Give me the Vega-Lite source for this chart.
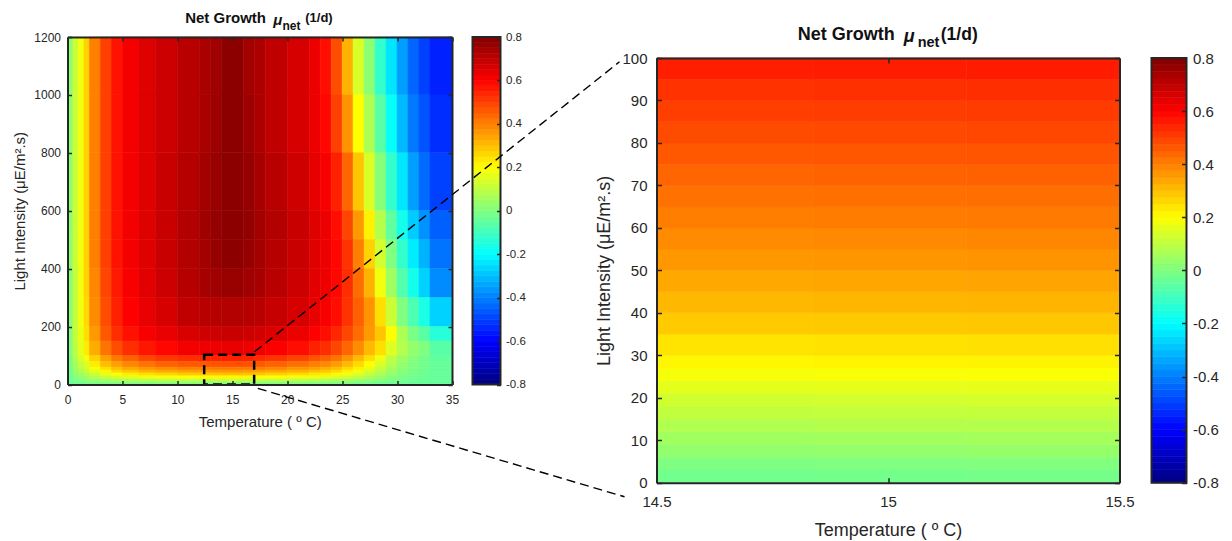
{"$schema":"https://vega.github.io/schema/vega-lite/v6.json","padding":{"left":12.5,"top":11,"right":0,"bottom":0},"autosize":{"type":"pad"},"background":"white","config":{"view":{"stroke":null},"font":"Liberation Sans","axis":{"grid":false,"domainColor":"#262626","tickColor":"#262626","labelColor":"#262626","titleColor":"#262626","titleFontWeight":"normal","labelFlush":false,"domainWidth":2,"tickWidth":1.5}},"datasets":{"jet":[{"v0":-0.8,"v1":-0.775,"v":-0.7875},{"v0":-0.775,"v1":-0.75,"v":-0.7625},{"v0":-0.75,"v1":-0.725,"v":-0.7375},{"v0":-0.725,"v1":-0.7,"v":-0.7125},{"v0":-0.7,"v1":-0.675,"v":-0.6875},{"v0":-0.675,"v1":-0.65,"v":-0.6625},{"v0":-0.65,"v1":-0.625,"v":-0.6375},{"v0":-0.625,"v1":-0.6,"v":-0.6125},{"v0":-0.6,"v1":-0.575,"v":-0.5875},{"v0":-0.575,"v1":-0.55,"v":-0.5625},{"v0":-0.55,"v1":-0.525,"v":-0.5375},{"v0":-0.525,"v1":-0.5,"v":-0.5125},{"v0":-0.5,"v1":-0.475,"v":-0.4875},{"v0":-0.475,"v1":-0.45,"v":-0.4625},{"v0":-0.45,"v1":-0.425,"v":-0.4375},{"v0":-0.425,"v1":-0.4,"v":-0.4125},{"v0":-0.4,"v1":-0.375,"v":-0.3875},{"v0":-0.375,"v1":-0.35,"v":-0.3625},{"v0":-0.35,"v1":-0.325,"v":-0.3375},{"v0":-0.325,"v1":-0.3,"v":-0.3125},{"v0":-0.3,"v1":-0.275,"v":-0.2875},{"v0":-0.275,"v1":-0.25,"v":-0.2625},{"v0":-0.25,"v1":-0.225,"v":-0.2375},{"v0":-0.225,"v1":-0.2,"v":-0.2125},{"v0":-0.2,"v1":-0.175,"v":-0.1875},{"v0":-0.175,"v1":-0.15,"v":-0.1625},{"v0":-0.15,"v1":-0.125,"v":-0.1375},{"v0":-0.125,"v1":-0.1,"v":-0.1125},{"v0":-0.1,"v1":-0.075,"v":-0.0875},{"v0":-0.075,"v1":-0.05,"v":-0.0625},{"v0":-0.05,"v1":-0.025,"v":-0.0375},{"v0":-0.025,"v1":0,"v":-0.0125},{"v0":0,"v1":0.025,"v":0.0125},{"v0":0.025,"v1":0.05,"v":0.0375},{"v0":0.05,"v1":0.075,"v":0.0625},{"v0":0.075,"v1":0.1,"v":0.0875},{"v0":0.1,"v1":0.125,"v":0.1125},{"v0":0.125,"v1":0.15,"v":0.1375},{"v0":0.15,"v1":0.175,"v":0.1625},{"v0":0.175,"v1":0.2,"v":0.1875},{"v0":0.2,"v1":0.225,"v":0.2125},{"v0":0.225,"v1":0.25,"v":0.2375},{"v0":0.25,"v1":0.275,"v":0.2625},{"v0":0.275,"v1":0.3,"v":0.2875},{"v0":0.3,"v1":0.325,"v":0.3125},{"v0":0.325,"v1":0.35,"v":0.3375},{"v0":0.35,"v1":0.375,"v":0.3625},{"v0":0.375,"v1":0.4,"v":0.3875},{"v0":0.4,"v1":0.425,"v":0.4125},{"v0":0.425,"v1":0.45,"v":0.4375},{"v0":0.45,"v1":0.475,"v":0.4625},{"v0":0.475,"v1":0.5,"v":0.4875},{"v0":0.5,"v1":0.525,"v":0.5125},{"v0":0.525,"v1":0.55,"v":0.5375},{"v0":0.55,"v1":0.575,"v":0.5625},{"v0":0.575,"v1":0.6,"v":0.5875},{"v0":0.6,"v1":0.625,"v":0.6125},{"v0":0.625,"v1":0.65,"v":0.6375},{"v0":0.65,"v1":0.675,"v":0.6625},{"v0":0.675,"v1":0.7,"v":0.6875},{"v0":0.7,"v1":0.725,"v":0.7125},{"v0":0.725,"v1":0.75,"v":0.7375},{"v0":0.75,"v1":0.775,"v":0.7625},{"v0":0.775,"v1":0.8,"v":0.7875}],"tcols":[{"t":0,"t1":0.5},{"t":0.5,"t1":1},{"t":1,"t1":1.5},{"t":1.5,"t1":2},{"t":2,"t1":3},{"t":3,"t1":4},{"t":4,"t1":5},{"t":5,"t1":6.5},{"t":6.5,"t1":8},{"t":8,"t1":10},{"t":10,"t1":12},{"t":12,"t1":13},{"t":13,"t1":14},{"t":14,"t1":16},{"t":16,"t1":17},{"t":17,"t1":18},{"t":18,"t1":20},{"t":20,"t1":22},{"t":22,"t1":23},{"t":23,"t1":24},{"t":24,"t1":25},{"t":25,"t1":26},{"t":26,"t1":27},{"t":27,"t1":28},{"t":28,"t1":29},{"t":29,"t1":30},{"t":30,"t1":31},{"t":31,"t1":32},{"t":32,"t1":33},{"t":33,"t1":35},{"t":14.5,"t1":14.84},{"t":14.84,"t1":15.17},{"t":15.17,"t1":15.5}],"lrows":[{"l":0,"l1":5},{"l":5,"l1":10},{"l":10,"l1":15},{"l":15,"l1":20},{"l":20,"l1":30},{"l":30,"l1":40},{"l":40,"l1":50},{"l":50,"l1":60},{"l":60,"l1":80},{"l":80,"l1":100},{"l":100,"l1":150},{"l":150,"l1":200},{"l":200,"l1":300},{"l":300,"l1":400},{"l":400,"l1":500},{"l":500,"l1":600},{"l":600,"l1":800},{"l":800,"l1":1000},{"l":1000,"l1":1200}],"rrows":[{"l":0,"l1":3},{"l":3,"l1":6},{"l":6,"l1":9},{"l":9,"l1":12},{"l":12,"l1":15},{"l":15,"l1":18},{"l":18,"l1":21},{"l":21,"l1":24},{"l":24,"l1":27},{"l":27,"l1":30},{"l":30,"l1":35},{"l":35,"l1":40},{"l":40,"l1":45},{"l":45,"l1":50},{"l":50,"l1":55},{"l":55,"l1":60},{"l":60,"l1":65},{"l":65,"l1":70},{"l":70,"l1":75},{"l":75,"l1":80},{"l":80,"l1":85},{"l":85,"l1":90},{"l":90,"l1":95},{"l":95,"l1":100}],"left":[
{"t":0,"l":1000,"v":0.02},{"t":0.5,"l":1000,"v":0.12},{"t":1,"l":1000,"v":0.18},{"t":1.5,"l":1000,"v":0.27},{"t":2,"l":1000,"v":0.4},{"t":3,"l":1000,"v":0.5},{"t":4,"l":1000,"v":0.57},{"t":5,"l":1000,"v":0.615},{"t":6.5,"l":1000,"v":0.65},{"t":8,"l":1000,"v":0.68},{"t":10,"l":1000,"v":0.71},{"t":12,"l":1000,"v":0.735},{"t":13,"l":1000,"v":0.75},{"t":14,"l":1000,"v":0.78},{"t":16,"l":1000,"v":0.745},{"t":17,"l":1000,"v":0.73},{"t":18,"l":1000,"v":0.7},{"t":20,"l":1000,"v":0.665},{"t":22,"l":1000,"v":0.63},{"t":23,"l":1000,"v":0.58},{"t":24,"l":1000,"v":0.48},{"t":25,"l":1000,"v":0.32},{"t":26,"l":1000,"v":0.14},{"t":27,"l":1000,"v":0.02},{"t":28,"l":1000,"v":-0.12},{"t":29,"l":1000,"v":-0.24},{"t":30,"l":1000,"v":-0.35},{"t":31,"l":1000,"v":-0.44},{"t":32,"l":1000,"v":-0.5},{"t":33,"l":1000,"v":-0.55},
{"t":0,"l":800,"v":0.02},{"t":0.5,"l":800,"v":0.12},{"t":1,"l":800,"v":0.18},{"t":1.5,"l":800,"v":0.27},{"t":2,"l":800,"v":0.4},{"t":3,"l":800,"v":0.5},{"t":4,"l":800,"v":0.57},{"t":5,"l":800,"v":0.615},{"t":6.5,"l":800,"v":0.65},{"t":8,"l":800,"v":0.68},{"t":10,"l":800,"v":0.71},{"t":12,"l":800,"v":0.735},{"t":13,"l":800,"v":0.755},{"t":14,"l":800,"v":0.78},{"t":16,"l":800,"v":0.755},{"t":17,"l":800,"v":0.73},{"t":18,"l":800,"v":0.7},{"t":20,"l":800,"v":0.665},{"t":22,"l":800,"v":0.63},{"t":23,"l":800,"v":0.59},{"t":24,"l":800,"v":0.5},{"t":25,"l":800,"v":0.37},{"t":26,"l":800,"v":0.2},{"t":27,"l":800,"v":0.07},{"t":28,"l":800,"v":-0.06},{"t":29,"l":800,"v":-0.19},{"t":30,"l":800,"v":-0.31},{"t":31,"l":800,"v":-0.41},{"t":32,"l":800,"v":-0.47},{"t":33,"l":800,"v":-0.53},
{"t":0,"l":600,"v":0.02},{"t":0.5,"l":600,"v":0.12},{"t":1,"l":600,"v":0.18},{"t":1.5,"l":600,"v":0.27},{"t":2,"l":600,"v":0.4},{"t":3,"l":600,"v":0.5},{"t":4,"l":600,"v":0.57},{"t":5,"l":600,"v":0.615},{"t":6.5,"l":600,"v":0.65},{"t":8,"l":600,"v":0.685},{"t":10,"l":600,"v":0.715},{"t":12,"l":600,"v":0.745},{"t":13,"l":600,"v":0.76},{"t":14,"l":600,"v":0.78},{"t":16,"l":600,"v":0.765},{"t":17,"l":600,"v":0.74},{"t":18,"l":600,"v":0.71},{"t":20,"l":600,"v":0.675},{"t":22,"l":600,"v":0.64},{"t":23,"l":600,"v":0.61},{"t":24,"l":600,"v":0.55},{"t":25,"l":600,"v":0.44},{"t":26,"l":600,"v":0.29},{"t":27,"l":600,"v":0.14},{"t":28,"l":600,"v":0.01},{"t":29,"l":600,"v":-0.12},{"t":30,"l":600,"v":-0.24},{"t":31,"l":600,"v":-0.35},{"t":32,"l":600,"v":-0.43},{"t":33,"l":600,"v":-0.5},
{"t":0,"l":500,"v":0.02},{"t":0.5,"l":500,"v":0.12},{"t":1,"l":500,"v":0.18},{"t":1.5,"l":500,"v":0.27},{"t":2,"l":500,"v":0.4},{"t":3,"l":500,"v":0.5},{"t":4,"l":500,"v":0.57},{"t":5,"l":500,"v":0.615},{"t":6.5,"l":500,"v":0.65},{"t":8,"l":500,"v":0.685},{"t":10,"l":500,"v":0.72},{"t":12,"l":500,"v":0.75},{"t":13,"l":500,"v":0.765},{"t":14,"l":500,"v":0.78},{"t":16,"l":500,"v":0.77},{"t":17,"l":500,"v":0.745},{"t":18,"l":500,"v":0.72},{"t":20,"l":500,"v":0.685},{"t":22,"l":500,"v":0.65},{"t":23,"l":500,"v":0.625},{"t":24,"l":500,"v":0.58},{"t":25,"l":500,"v":0.49},{"t":26,"l":500,"v":0.36},{"t":27,"l":500,"v":0.22},{"t":28,"l":500,"v":0.08},{"t":29,"l":500,"v":-0.05},{"t":30,"l":500,"v":-0.17},{"t":31,"l":500,"v":-0.28},{"t":32,"l":500,"v":-0.37},{"t":33,"l":500,"v":-0.45},
{"t":0,"l":400,"v":0.02},{"t":0.5,"l":400,"v":0.12},{"t":1,"l":400,"v":0.18},{"t":1.5,"l":400,"v":0.27},{"t":2,"l":400,"v":0.4},{"t":3,"l":400,"v":0.5},{"t":4,"l":400,"v":0.57},{"t":5,"l":400,"v":0.615},{"t":6.5,"l":400,"v":0.65},{"t":8,"l":400,"v":0.685},{"t":10,"l":400,"v":0.72},{"t":12,"l":400,"v":0.745},{"t":13,"l":400,"v":0.765},{"t":14,"l":400,"v":0.78},{"t":16,"l":400,"v":0.765},{"t":17,"l":400,"v":0.745},{"t":18,"l":400,"v":0.715},{"t":20,"l":400,"v":0.685},{"t":22,"l":400,"v":0.65},{"t":23,"l":400,"v":0.63},{"t":24,"l":400,"v":0.59},{"t":25,"l":400,"v":0.52},{"t":26,"l":400,"v":0.4},{"t":27,"l":400,"v":0.27},{"t":28,"l":400,"v":0.13},{"t":29,"l":400,"v":0},{"t":30,"l":400,"v":-0.12},{"t":31,"l":400,"v":-0.23},{"t":32,"l":400,"v":-0.32},{"t":33,"l":400,"v":-0.42},
{"t":0,"l":300,"v":0.01},{"t":0.5,"l":300,"v":0.11},{"t":1,"l":300,"v":0.18},{"t":1.5,"l":300,"v":0.27},{"t":2,"l":300,"v":0.39},{"t":3,"l":300,"v":0.49},{"t":4,"l":300,"v":0.56},{"t":5,"l":300,"v":0.61},{"t":6.5,"l":300,"v":0.645},{"t":8,"l":300,"v":0.68},{"t":10,"l":300,"v":0.715},{"t":12,"l":300,"v":0.74},{"t":13,"l":300,"v":0.75},{"t":14,"l":300,"v":0.76},{"t":16,"l":300,"v":0.75},{"t":17,"l":300,"v":0.74},{"t":18,"l":300,"v":0.71},{"t":20,"l":300,"v":0.68},{"t":22,"l":300,"v":0.645},{"t":23,"l":300,"v":0.625},{"t":24,"l":300,"v":0.59},{"t":25,"l":300,"v":0.53},{"t":26,"l":300,"v":0.43},{"t":27,"l":300,"v":0.32},{"t":28,"l":300,"v":0.18},{"t":29,"l":300,"v":0.05},{"t":30,"l":300,"v":-0.07},{"t":31,"l":300,"v":-0.17},{"t":32,"l":300,"v":-0.27},{"t":33,"l":300,"v":-0.38},
{"t":0,"l":200,"v":0.01},{"t":0.5,"l":200,"v":0.11},{"t":1,"l":200,"v":0.18},{"t":1.5,"l":200,"v":0.26},{"t":2,"l":200,"v":0.38},{"t":3,"l":200,"v":0.48},{"t":4,"l":200,"v":0.55},{"t":5,"l":200,"v":0.6},{"t":6.5,"l":200,"v":0.635},{"t":8,"l":200,"v":0.665},{"t":10,"l":200,"v":0.7},{"t":12,"l":200,"v":0.71},{"t":13,"l":200,"v":0.715},{"t":14,"l":200,"v":0.72},{"t":16,"l":200,"v":0.715},{"t":17,"l":200,"v":0.71},{"t":18,"l":200,"v":0.69},{"t":20,"l":200,"v":0.665},{"t":22,"l":200,"v":0.635},{"t":23,"l":200,"v":0.61},{"t":24,"l":200,"v":0.58},{"t":25,"l":200,"v":0.52},{"t":26,"l":200,"v":0.45},{"t":27,"l":200,"v":0.37},{"t":28,"l":200,"v":0.25},{"t":29,"l":200,"v":0.12},{"t":30,"l":200,"v":0},{"t":31,"l":200,"v":-0.08},{"t":32,"l":200,"v":-0.16},{"t":33,"l":200,"v":-0.27},
{"t":0,"l":150,"v":0},{"t":0.5,"l":150,"v":0.11},{"t":1,"l":150,"v":0.17},{"t":1.5,"l":150,"v":0.25},{"t":2,"l":150,"v":0.36},{"t":3,"l":150,"v":0.46},{"t":4,"l":150,"v":0.53},{"t":5,"l":150,"v":0.575},{"t":6.5,"l":150,"v":0.61},{"t":8,"l":150,"v":0.635},{"t":10,"l":150,"v":0.66},{"t":12,"l":150,"v":0.675},{"t":13,"l":150,"v":0.68},{"t":14,"l":150,"v":0.685},{"t":16,"l":150,"v":0.68},{"t":17,"l":150,"v":0.67},{"t":18,"l":150,"v":0.655},{"t":20,"l":150,"v":0.63},{"t":22,"l":150,"v":0.6},{"t":23,"l":150,"v":0.58},{"t":24,"l":150,"v":0.54},{"t":25,"l":150,"v":0.49},{"t":26,"l":150,"v":0.43},{"t":27,"l":150,"v":0.36},{"t":28,"l":150,"v":0.29},{"t":29,"l":150,"v":0.2},{"t":30,"l":150,"v":0.07},{"t":31,"l":150,"v":-0.01},{"t":32,"l":150,"v":-0.06},{"t":33,"l":150,"v":-0.14},
{"t":0,"l":100,"v":0},{"t":0.5,"l":100,"v":0.1},{"t":1,"l":100,"v":0.16},{"t":1.5,"l":100,"v":0.23},{"t":2,"l":100,"v":0.33},{"t":3,"l":100,"v":0.42},{"t":4,"l":100,"v":0.48},{"t":5,"l":100,"v":0.53},{"t":6.5,"l":100,"v":0.565},{"t":8,"l":100,"v":0.59},{"t":10,"l":100,"v":0.615},{"t":12,"l":100,"v":0.625},{"t":13,"l":100,"v":0.63},{"t":14,"l":100,"v":0.635},{"t":16,"l":100,"v":0.63},{"t":17,"l":100,"v":0.62},{"t":18,"l":100,"v":0.605},{"t":20,"l":100,"v":0.58},{"t":22,"l":100,"v":0.55},{"t":23,"l":100,"v":0.53},{"t":24,"l":100,"v":0.49},{"t":25,"l":100,"v":0.44},{"t":26,"l":100,"v":0.38},{"t":27,"l":100,"v":0.31},{"t":28,"l":100,"v":0.25},{"t":29,"l":100,"v":0.15},{"t":30,"l":100,"v":0.08},{"t":31,"l":100,"v":0.03},{"t":32,"l":100,"v":0},{"t":33,"l":100,"v":-0.06},
{"t":0,"l":80,"v":-0.01},{"t":0.5,"l":80,"v":0.08},{"t":1,"l":80,"v":0.14},{"t":1.5,"l":80,"v":0.19},{"t":2,"l":80,"v":0.27},{"t":3,"l":80,"v":0.35},{"t":4,"l":80,"v":0.41},{"t":5,"l":80,"v":0.45},{"t":6.5,"l":80,"v":0.49},{"t":8,"l":80,"v":0.515},{"t":10,"l":80,"v":0.53},{"t":12,"l":80,"v":0.54},{"t":13,"l":80,"v":0.545},{"t":14,"l":80,"v":0.55},{"t":16,"l":80,"v":0.545},{"t":17,"l":80,"v":0.535},{"t":18,"l":80,"v":0.52},{"t":20,"l":80,"v":0.495},{"t":22,"l":80,"v":0.47},{"t":23,"l":80,"v":0.45},{"t":24,"l":80,"v":0.42},{"t":25,"l":80,"v":0.37},{"t":26,"l":80,"v":0.31},{"t":27,"l":80,"v":0.25},{"t":28,"l":80,"v":0.18},{"t":29,"l":80,"v":0.1},{"t":30,"l":80,"v":0.05},{"t":31,"l":80,"v":0.01},{"t":32,"l":80,"v":-0.02},{"t":33,"l":80,"v":-0.05},
{"t":0,"l":60,"v":-0.01},{"t":0.5,"l":60,"v":0.06},{"t":1,"l":60,"v":0.11},{"t":1.5,"l":60,"v":0.15},{"t":2,"l":60,"v":0.23},{"t":3,"l":60,"v":0.3},{"t":4,"l":60,"v":0.35},{"t":5,"l":60,"v":0.39},{"t":6.5,"l":60,"v":0.42},{"t":8,"l":60,"v":0.445},{"t":10,"l":60,"v":0.46},{"t":12,"l":60,"v":0.465},{"t":13,"l":60,"v":0.47},{"t":14,"l":60,"v":0.475},{"t":16,"l":60,"v":0.47},{"t":17,"l":60,"v":0.46},{"t":18,"l":60,"v":0.445},{"t":20,"l":60,"v":0.425},{"t":22,"l":60,"v":0.4},{"t":23,"l":60,"v":0.385},{"t":24,"l":60,"v":0.355},{"t":25,"l":60,"v":0.31},{"t":26,"l":60,"v":0.26},{"t":27,"l":60,"v":0.2},{"t":28,"l":60,"v":0.14},{"t":29,"l":60,"v":0.08},{"t":30,"l":60,"v":0.03},{"t":31,"l":60,"v":0},{"t":32,"l":60,"v":-0.02},{"t":33,"l":60,"v":-0.04},
{"t":0,"l":50,"v":-0.02},{"t":0.5,"l":50,"v":0.05},{"t":1,"l":50,"v":0.09},{"t":1.5,"l":50,"v":0.13},{"t":2,"l":50,"v":0.19},{"t":3,"l":50,"v":0.25},{"t":4,"l":50,"v":0.3},{"t":5,"l":50,"v":0.34},{"t":6.5,"l":50,"v":0.365},{"t":8,"l":50,"v":0.385},{"t":10,"l":50,"v":0.4},{"t":12,"l":50,"v":0.405},{"t":13,"l":50,"v":0.41},{"t":14,"l":50,"v":0.415},{"t":16,"l":50,"v":0.41},{"t":17,"l":50,"v":0.405},{"t":18,"l":50,"v":0.39},{"t":20,"l":50,"v":0.37},{"t":22,"l":50,"v":0.35},{"t":23,"l":50,"v":0.33},{"t":24,"l":50,"v":0.3},{"t":25,"l":50,"v":0.26},{"t":26,"l":50,"v":0.22},{"t":27,"l":50,"v":0.17},{"t":28,"l":50,"v":0.11},{"t":29,"l":50,"v":0.06},{"t":30,"l":50,"v":0.02},{"t":31,"l":50,"v":0},{"t":32,"l":50,"v":-0.02},{"t":33,"l":50,"v":-0.04},
{"t":0,"l":40,"v":-0.02},{"t":0.5,"l":40,"v":0.04},{"t":1,"l":40,"v":0.07},{"t":1.5,"l":40,"v":0.11},{"t":2,"l":40,"v":0.16},{"t":3,"l":40,"v":0.21},{"t":4,"l":40,"v":0.26},{"t":5,"l":40,"v":0.29},{"t":6.5,"l":40,"v":0.32},{"t":8,"l":40,"v":0.335},{"t":10,"l":40,"v":0.35},{"t":12,"l":40,"v":0.355},{"t":13,"l":40,"v":0.36},{"t":14,"l":40,"v":0.36},{"t":16,"l":40,"v":0.355},{"t":17,"l":40,"v":0.35},{"t":18,"l":40,"v":0.34},{"t":20,"l":40,"v":0.32},{"t":22,"l":40,"v":0.3},{"t":23,"l":40,"v":0.285},{"t":24,"l":40,"v":0.26},{"t":25,"l":40,"v":0.22},{"t":26,"l":40,"v":0.18},{"t":27,"l":40,"v":0.14},{"t":28,"l":40,"v":0.09},{"t":29,"l":40,"v":0.05},{"t":30,"l":40,"v":0.01},{"t":31,"l":40,"v":-0.01},{"t":32,"l":40,"v":-0.03},{"t":33,"l":40,"v":-0.04},
{"t":0,"l":30,"v":-0.03},{"t":0.5,"l":30,"v":0.02},{"t":1,"l":30,"v":0.05},{"t":1.5,"l":30,"v":0.08},{"t":2,"l":30,"v":0.12},{"t":3,"l":30,"v":0.17},{"t":4,"l":30,"v":0.2},{"t":5,"l":30,"v":0.23},{"t":6.5,"l":30,"v":0.25},{"t":8,"l":30,"v":0.27},{"t":10,"l":30,"v":0.285},{"t":12,"l":30,"v":0.29},{"t":13,"l":30,"v":0.295},{"t":14,"l":30,"v":0.3},{"t":16,"l":30,"v":0.295},{"t":17,"l":30,"v":0.29},{"t":18,"l":30,"v":0.275},{"t":20,"l":30,"v":0.26},{"t":22,"l":30,"v":0.24},{"t":23,"l":30,"v":0.23},{"t":24,"l":30,"v":0.21},{"t":25,"l":30,"v":0.18},{"t":26,"l":30,"v":0.15},{"t":27,"l":30,"v":0.11},{"t":28,"l":30,"v":0.07},{"t":29,"l":30,"v":0.03},{"t":30,"l":30,"v":0},{"t":31,"l":30,"v":-0.02},{"t":32,"l":30,"v":-0.03},{"t":33,"l":30,"v":-0.04},
{"t":0,"l":20,"v":-0.03},{"t":0.5,"l":20,"v":0.01},{"t":1,"l":20,"v":0.03},{"t":1.5,"l":20,"v":0.05},{"t":2,"l":20,"v":0.08},{"t":3,"l":20,"v":0.11},{"t":4,"l":20,"v":0.14},{"t":5,"l":20,"v":0.16},{"t":6.5,"l":20,"v":0.18},{"t":8,"l":20,"v":0.19},{"t":10,"l":20,"v":0.2},{"t":12,"l":20,"v":0.205},{"t":13,"l":20,"v":0.21},{"t":14,"l":20,"v":0.21},{"t":16,"l":20,"v":0.21},{"t":17,"l":20,"v":0.205},{"t":18,"l":20,"v":0.2},{"t":20,"l":20,"v":0.185},{"t":22,"l":20,"v":0.175},{"t":23,"l":20,"v":0.165},{"t":24,"l":20,"v":0.15},{"t":25,"l":20,"v":0.13},{"t":26,"l":20,"v":0.1},{"t":27,"l":20,"v":0.07},{"t":28,"l":20,"v":0.04},{"t":29,"l":20,"v":0.01},{"t":30,"l":20,"v":-0.01},{"t":31,"l":20,"v":-0.02},{"t":32,"l":20,"v":-0.03},{"t":33,"l":20,"v":-0.04},
{"t":0,"l":15,"v":-0.03},{"t":0.5,"l":15,"v":0},{"t":1,"l":15,"v":0.01},{"t":1.5,"l":15,"v":0.03},{"t":2,"l":15,"v":0.05},{"t":3,"l":15,"v":0.07},{"t":4,"l":15,"v":0.09},{"t":5,"l":15,"v":0.105},{"t":6.5,"l":15,"v":0.115},{"t":8,"l":15,"v":0.125},{"t":10,"l":15,"v":0.135},{"t":12,"l":15,"v":0.14},{"t":13,"l":15,"v":0.14},{"t":14,"l":15,"v":0.145},{"t":16,"l":15,"v":0.14},{"t":17,"l":15,"v":0.135},{"t":18,"l":15,"v":0.13},{"t":20,"l":15,"v":0.12},{"t":22,"l":15,"v":0.11},{"t":23,"l":15,"v":0.1},{"t":24,"l":15,"v":0.09},{"t":25,"l":15,"v":0.08},{"t":26,"l":15,"v":0.06},{"t":27,"l":15,"v":0.04},{"t":28,"l":15,"v":0.02},{"t":29,"l":15,"v":0},{"t":30,"l":15,"v":-0.01},{"t":31,"l":15,"v":-0.03},{"t":32,"l":15,"v":-0.04},{"t":33,"l":15,"v":-0.04},
{"t":0,"l":10,"v":-0.03},{"t":0.5,"l":10,"v":-0.01},{"t":1,"l":10,"v":0},{"t":1.5,"l":10,"v":0.015},{"t":2,"l":10,"v":0.03},{"t":3,"l":10,"v":0.045},{"t":4,"l":10,"v":0.06},{"t":5,"l":10,"v":0.07},{"t":6.5,"l":10,"v":0.08},{"t":8,"l":10,"v":0.085},{"t":10,"l":10,"v":0.09},{"t":12,"l":10,"v":0.095},{"t":13,"l":10,"v":0.095},{"t":14,"l":10,"v":0.1},{"t":16,"l":10,"v":0.095},{"t":17,"l":10,"v":0.09},{"t":18,"l":10,"v":0.085},{"t":20,"l":10,"v":0.08},{"t":22,"l":10,"v":0.075},{"t":23,"l":10,"v":0.065},{"t":24,"l":10,"v":0.06},{"t":25,"l":10,"v":0.05},{"t":26,"l":10,"v":0.035},{"t":27,"l":10,"v":0.02},{"t":28,"l":10,"v":0.01},{"t":29,"l":10,"v":-0.01},{"t":30,"l":10,"v":-0.02},{"t":31,"l":10,"v":-0.03},{"t":32,"l":10,"v":-0.04},{"t":33,"l":10,"v":-0.04},
{"t":0,"l":5,"v":-0.03},{"t":0.5,"l":5,"v":-0.02},{"t":1,"l":5,"v":-0.01},{"t":1.5,"l":5,"v":0},{"t":2,"l":5,"v":0.01},{"t":3,"l":5,"v":0.02},{"t":4,"l":5,"v":0.03},{"t":5,"l":5,"v":0.035},{"t":6.5,"l":5,"v":0.04},{"t":8,"l":5,"v":0.045},{"t":10,"l":5,"v":0.05},{"t":12,"l":5,"v":0.05},{"t":13,"l":5,"v":0.05},{"t":14,"l":5,"v":0.05},{"t":16,"l":5,"v":0.05},{"t":17,"l":5,"v":0.05},{"t":18,"l":5,"v":0.045},{"t":20,"l":5,"v":0.04},{"t":22,"l":5,"v":0.035},{"t":23,"l":5,"v":0.03},{"t":24,"l":5,"v":0.025},{"t":25,"l":5,"v":0.02},{"t":26,"l":5,"v":0.01},{"t":27,"l":5,"v":0},{"t":28,"l":5,"v":-0.01},{"t":29,"l":5,"v":-0.02},{"t":30,"l":5,"v":-0.03},{"t":31,"l":5,"v":-0.03},{"t":32,"l":5,"v":-0.04},{"t":33,"l":5,"v":-0.04},
{"t":0,"l":0,"v":-0.04},{"t":0.5,"l":0,"v":-0.03},{"t":1,"l":0,"v":-0.03},{"t":1.5,"l":0,"v":-0.02},{"t":2,"l":0,"v":-0.02},{"t":3,"l":0,"v":-0.02},{"t":4,"l":0,"v":-0.01},{"t":5,"l":0,"v":-0.01},{"t":6.5,"l":0,"v":0},{"t":8,"l":0,"v":0},{"t":10,"l":0,"v":0},{"t":12,"l":0,"v":0},{"t":13,"l":0,"v":0},{"t":14,"l":0,"v":0},{"t":16,"l":0,"v":0},{"t":17,"l":0,"v":0},{"t":18,"l":0,"v":0},{"t":20,"l":0,"v":0},{"t":22,"l":0,"v":0},{"t":23,"l":0,"v":-0.01},{"t":24,"l":0,"v":-0.01},{"t":25,"l":0,"v":-0.01},{"t":26,"l":0,"v":-0.02},{"t":27,"l":0,"v":-0.02},{"t":28,"l":0,"v":-0.03},{"t":29,"l":0,"v":-0.03},{"t":30,"l":0,"v":-0.03},{"t":31,"l":0,"v":-0.04},{"t":32,"l":0,"v":-0.04},{"t":33,"l":0,"v":-0.04}
],"right":[
{"t":14.5,"l":0,"v":-0.023},{"t":14.84,"l":0,"v":-0.02},{"t":15.17,"l":0,"v":-0.017},{"t":14.5,"l":3,"v":-0.003},{"t":14.84,"l":3,"v":0},{"t":15.17,"l":3,"v":0.003},{"t":14.5,"l":6,"v":0.027},{"t":14.84,"l":6,"v":0.03},{"t":15.17,"l":6,"v":0.033},{"t":14.5,"l":9,"v":0.052},{"t":14.84,"l":9,"v":0.055},{"t":15.17,"l":9,"v":0.058},{"t":14.5,"l":12,"v":0.077},{"t":14.84,"l":12,"v":0.08},{"t":15.17,"l":12,"v":0.083},{"t":14.5,"l":15,"v":0.102},{"t":14.84,"l":15,"v":0.105},{"t":15.17,"l":15,"v":0.108},{"t":14.5,"l":18,"v":0.127},{"t":14.84,"l":18,"v":0.13},{"t":15.17,"l":18,"v":0.133},{"t":14.5,"l":21,"v":0.157},{"t":14.84,"l":21,"v":0.16},{"t":15.17,"l":21,"v":0.163},{"t":14.5,"l":24,"v":0.187},{"t":14.84,"l":24,"v":0.19},{"t":15.17,"l":24,"v":0.193},{"t":14.5,"l":27,"v":0.212},{"t":14.84,"l":27,"v":0.215},{"t":15.17,"l":27,"v":0.218},{"t":14.5,"l":30,"v":0.242},{"t":14.84,"l":30,"v":0.245},{"t":15.17,"l":30,"v":0.248},{"t":14.5,"l":35,"v":0.282},{"t":14.84,"l":35,"v":0.285},{"t":15.17,"l":35,"v":0.288},{"t":14.5,"l":40,"v":0.312},{"t":14.84,"l":40,"v":0.315},{"t":15.17,"l":40,"v":0.318},{"t":14.5,"l":45,"v":0.337},{"t":14.84,"l":45,"v":0.34},{"t":15.17,"l":45,"v":0.343},{"t":14.5,"l":50,"v":0.362},{"t":14.84,"l":50,"v":0.365},{"t":15.17,"l":50,"v":0.368},{"t":14.5,"l":55,"v":0.382},{"t":14.84,"l":55,"v":0.385},{"t":15.17,"l":55,"v":0.388},{"t":14.5,"l":60,"v":0.402},{"t":14.84,"l":60,"v":0.405},{"t":15.17,"l":60,"v":0.408},{"t":14.5,"l":65,"v":0.422},{"t":14.84,"l":65,"v":0.425},{"t":15.17,"l":65,"v":0.428},{"t":14.5,"l":70,"v":0.442},{"t":14.84,"l":70,"v":0.445},{"t":15.17,"l":70,"v":0.448},{"t":14.5,"l":75,"v":0.462},{"t":14.84,"l":75,"v":0.465},{"t":15.17,"l":75,"v":0.468},{"t":14.5,"l":80,"v":0.482},{"t":14.84,"l":80,"v":0.485},{"t":15.17,"l":80,"v":0.488},{"t":14.5,"l":85,"v":0.502},{"t":14.84,"l":85,"v":0.505},{"t":15.17,"l":85,"v":0.508},{"t":14.5,"l":90,"v":0.522},{"t":14.84,"l":90,"v":0.525},{"t":15.17,"l":90,"v":0.528},{"t":14.5,"l":95,"v":0.552},{"t":14.84,"l":95,"v":0.555},{"t":15.17,"l":95,"v":0.558}
]},"hconcat":[{"width":404.7,"height":347.5,"layer":[
{"data":{"name":"left"},"transform":[{"lookup":"t","from":{"data":{"name":"tcols"},"key":"t","fields":["t1"]}},{"lookup":"l","from":{"data":{"name":"lrows"},"key":"l","fields":["l1"]}}],"mark":{"type":"rect","strokeWidth":0.6},"encoding":{"x":{"field":"t","type":"quantitative","scale":{"domain":[0,35],"nice":false,"range":[0,384.5]},"axis":{"orient":"bottom","zindex":1,"values":[0,5,10,15,20,25,30,35],"title":"Temperature ( º C)","titleFontSize":15,"labelFontSize":12,"tickSize":-4,"labelPadding":13.5,"titlePadding":9}},"x2":{"field":"t1"},"y":{"field":"l","type":"quantitative","scale":{"domain":[0,1200],"nice":false},"axis":{"orient":"left","zindex":1,"format":"d","values":[0,200,400,600,800,1000,1200],"title":"Light Intensity (μE/m².s)","titleFontSize":15,"labelFontSize":12,"tickSize":-4,"labelPadding":11,"titlePadding":6}},"y2":{"field":"l1"},"color":{"field":"v","type":"quantitative","legend":null,"scale":{"type":"linear","domain":[-0.8,-0.6,-0.2,0.2,0.6,0.8],"range":["#000080","#0000ff","#00ffff","#ffff00","#ff0000","#800000"],"interpolate":"rgb","clamp":true}},"stroke":{"field":"v","type":"quantitative","legend":null,"scale":{"type":"linear","domain":[-0.8,-0.6,-0.2,0.2,0.6,0.8],"range":["#000080","#0000ff","#00ffff","#ffff00","#ff0000","#800000"],"interpolate":"rgb","clamp":true}}}},
{"data":{"values":[{"t0":12.44,"t1":16.99,"l0":0,"l1":103}]},"mark":{"type":"rect","fillOpacity":0,"stroke":"black","strokeWidth":2.5,"strokeDash":[9,5]},"encoding":{"x":{"field":"t0","type":"quantitative","axis":null},"x2":{"field":"t1"},"y":{"field":"l0","type":"quantitative","axis":null},"y2":{"field":"l1"}}},
{"data":{"values":[{"label":"Net Growth"}]},"mark":{"type":"text","align":"left","baseline":"middle","fontWeight":"bold","fontSize":15,"dy":-19,"color":"#111"},"encoding":{"text":{"field":"label"},"x":{"datum":10.71,"axis":{"orient":"top","zindex":1,"values":[0,5,10,15,20,25,30,35],"labels":false,"title":null,"tickSize":-4}},"y":{"datum":1200,"axis":{"orient":"right","zindex":1,"offset":-20.2,"values":[0,200,400,600,800,1000,1200],"labels":false,"title":null,"tickSize":-4}}}},
{"data":{"values":[{"label":"μ"}]},"mark":{"type":"text","align":"left","baseline":"middle","fontStyle":"italic","fontWeight":"bold","fontFamily":"Liberation Serif","fontSize":15,"dy":-17,"color":"#111"},"encoding":{"text":{"field":"label"},"x":{"datum":18.72,"axis":null},"y":{"datum":1200,"axis":null}}},
{"data":{"values":[{"label":"net"}]},"mark":{"type":"text","align":"left","baseline":"middle","fontWeight":"bold","fontSize":12,"dy":-11,"color":"#111"},"encoding":{"text":{"field":"label"},"x":{"datum":19.57,"axis":null},"y":{"datum":1200,"axis":null}}},
{"data":{"values":[{"label":"(1/d)"}]},"mark":{"type":"text","align":"left","baseline":"middle","fontWeight":"bold","fontSize":13,"dy":-19,"color":"#111"},"encoding":{"text":{"field":"label"},"x":{"datum":21.64,"axis":null},"y":{"datum":1200,"axis":null}}}
],"resolve":{"axis":{"x":"independent","y":"independent"}}},
{"width":183.7,"height":347.5,"layer":[
{"data":{"name":"jet"},"mark":{"type":"rect","strokeWidth":0.6},"encoding":{"x":{"datum":0,"scale":{"domain":[0,1],"nice":false,"range":[0,28]},"axis":null},"x2":{"datum":1},"y":{"field":"v0","type":"quantitative","scale":{"domain":[-0.8,0.8],"nice":false},"axis":{"orient":"right","zindex":1,"offset":-155.7,"domain":false,"values":[-0.8,-0.6,-0.4,-0.2,0,0.2,0.4,0.6,0.8],"labelExpr":"replace(format(datum.value,'~g'),'−','-')","title":null,"labelFontSize":11.5,"tickSize":-4,"labelPadding":9}},"y2":{"field":"v1"},"color":{"field":"v","type":"quantitative","legend":null,"scale":{"type":"linear","domain":[-0.8,-0.6,-0.2,0.2,0.6,0.8],"range":["#000080","#0000ff","#00ffff","#ffff00","#ff0000","#800000"],"interpolate":"rgb","clamp":true}},"stroke":{"field":"v","type":"quantitative","legend":null,"scale":{"type":"linear","domain":[-0.8,-0.6,-0.2,0.2,0.6,0.8],"range":["#000080","#0000ff","#00ffff","#ffff00","#ff0000","#800000"],"interpolate":"rgb","clamp":true}}}},
{"data":{"values":[{"a":0,"b":1,"v0":-0.8,"v1":0.8}]},"mark":{"type":"rect","fillOpacity":0,"stroke":"#262626","strokeWidth":2},"encoding":{"x":{"field":"a","type":"quantitative","axis":null},"x2":{"field":"b"},"y":{"field":"v0","type":"quantitative","axis":null},"y2":{"field":"v1"}}},
{"data":{"values":[{"a":-7.786,"b":-0.6494,"g":"upper"},{"a":5.25,"b":0.6858,"g":"upper"},{"a":-7.668,"b":-0.8179,"g":"lower"},{"a":5.43,"b":-1.317,"g":"lower"}]},"mark":{"type":"line","color":"black","strokeWidth":1.4,"strokeDash":[9,5],"clip":false},"encoding":{"x":{"field":"a","type":"quantitative","axis":null},"y":{"field":"b","type":"quantitative","axis":null},"detail":{"field":"g"}}}
],"resolve":{"axis":{"x":"independent","y":"independent"}}},
{"width":495,"height":445.7,"layer":[
{"data":{"name":"right"},"transform":[{"lookup":"t","from":{"data":{"name":"tcols"},"key":"t","fields":["t1"]}},{"lookup":"l","from":{"data":{"name":"rrows"},"key":"l","fields":["l1"]}}],"mark":{"type":"rect","strokeWidth":0.6},"encoding":{"x":{"field":"t","type":"quantitative","scale":{"domain":[14.5,15.5],"nice":false,"range":[0,463]},"axis":{"orient":"bottom","zindex":1,"values":[14.5,15,15.5],"format":"~g","title":"Temperature ( º C)","titleFontSize":18,"labelFontSize":15,"tickSize":-5,"labelPadding":17,"titlePadding":11.5}},"x2":{"field":"t1"},"y":{"field":"l","type":"quantitative","scale":{"domain":[0,100],"nice":false,"range":[445.7,21]},"axis":{"orient":"left","zindex":1,"values":[0,10,20,30,40,50,60,70,80,90,100],"title":"Light Intensity (μE/m².s)","titleFontSize":18,"labelFontSize":15,"tickSize":-5,"labelPadding":14.5,"titlePadding":8}},"y2":{"field":"l1"},"color":{"field":"v","type":"quantitative","legend":null,"scale":{"type":"linear","domain":[-0.8,-0.6,-0.2,0.2,0.6,0.8],"range":["#000080","#0000ff","#00ffff","#ffff00","#ff0000","#800000"],"interpolate":"rgb","clamp":true}},"stroke":{"field":"v","type":"quantitative","legend":null,"scale":{"type":"linear","domain":[-0.8,-0.6,-0.2,0.2,0.6,0.8],"range":["#000080","#0000ff","#00ffff","#ffff00","#ff0000","#800000"],"interpolate":"rgb","clamp":true}}}},
{"data":{"values":[{"label":"Net Growth"}]},"mark":{"type":"text","align":"left","baseline":"middle","fontWeight":"bold","fontSize":18,"dy":-23,"color":"#111"},"encoding":{"text":{"field":"label"},"x":{"datum":14.805,"axis":{"orient":"top","zindex":1,"values":[14.5,15,15.5],"labels":false,"title":null,"tickSize":-5,"offset":-21}},"y":{"datum":100,"axis":{"orient":"right","zindex":1,"offset":-32,"values":[0,10,20,30,40,50,60,70,80,90,100],"labels":false,"title":null,"tickSize":-5}}}},
{"data":{"values":[{"label":"μ"}]},"mark":{"type":"text","align":"left","baseline":"middle","fontStyle":"italic","fontWeight":"bold","fontFamily":"Liberation Serif","fontSize":18,"dy":-21,"color":"#111"},"encoding":{"text":{"field":"label"},"x":{"datum":15.034,"axis":null},"y":{"datum":100,"axis":null}}},
{"data":{"values":[{"label":"net"}]},"mark":{"type":"text","align":"left","baseline":"middle","fontWeight":"bold","fontSize":14.5,"dy":-15,"color":"#111"},"encoding":{"text":{"field":"label"},"x":{"datum":15.064,"axis":null},"y":{"datum":100,"axis":null}}},
{"data":{"values":[{"label":"(1/d)"}]},"mark":{"type":"text","align":"left","baseline":"middle","fontWeight":"bold","fontSize":17.5,"dy":-23,"color":"#111"},"encoding":{"text":{"field":"label"},"x":{"datum":15.114,"axis":null},"y":{"datum":100,"axis":null}}}
],"resolve":{"axis":{"x":"independent","y":"independent"}}},
{"width":35,"height":445.7,"layer":[
{"data":{"name":"jet"},"mark":{"type":"rect","strokeWidth":0.6},"encoding":{"x":{"datum":0,"scale":{"domain":[0,1],"nice":false,"range":[0,35]},"axis":null},"x2":{"datum":1},"y":{"field":"v0","type":"quantitative","scale":{"domain":[-0.8,0.8],"nice":false,"range":[445.7,21]},"axis":{"orient":"right","zindex":1,"domain":false,"values":[-0.8,-0.6,-0.4,-0.2,0,0.2,0.4,0.6,0.8],"labelExpr":"replace(format(datum.value,'~g'),'−','-')","title":null,"labelFontSize":15,"tickSize":-5,"labelPadding":11}},"y2":{"field":"v1"},"color":{"field":"v","type":"quantitative","legend":null,"scale":{"type":"linear","domain":[-0.8,-0.6,-0.2,0.2,0.6,0.8],"range":["#000080","#0000ff","#00ffff","#ffff00","#ff0000","#800000"],"interpolate":"rgb","clamp":true}},"stroke":{"field":"v","type":"quantitative","legend":null,"scale":{"type":"linear","domain":[-0.8,-0.6,-0.2,0.2,0.6,0.8],"range":["#000080","#0000ff","#00ffff","#ffff00","#ff0000","#800000"],"interpolate":"rgb","clamp":true}}}},
{"data":{"values":[{"a":0,"b":1,"v0":-0.8,"v1":0.8}]},"mark":{"type":"rect","fillOpacity":0,"stroke":"#262626","strokeWidth":2},"encoding":{"x":{"field":"a","type":"quantitative","axis":null},"x2":{"field":"b"},"y":{"field":"v0","type":"quantitative","axis":null},"y2":{"field":"v1"}}}
],"resolve":{"axis":{"x":"independent","y":"independent"}}}
],"spacing":0,"bounds":"flush","resolve":{"scale":{"color":"independent","stroke":"independent"}}}
